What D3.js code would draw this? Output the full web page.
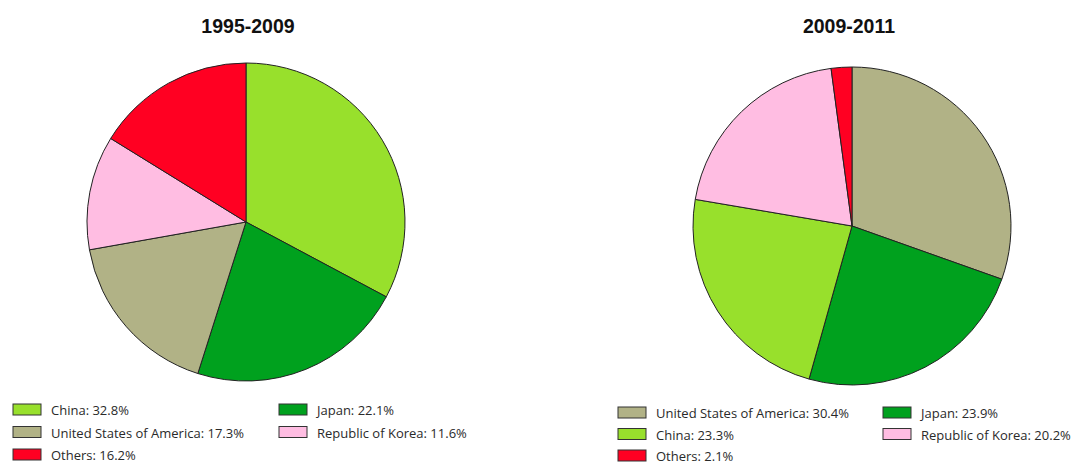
<!DOCTYPE html>
<html>
<head>
<meta charset="utf-8">
<script src="https://cdn.jsdelivr.net/npm/d3@7"></script>
<style>
  body { margin: 0; background: #fff; }
  .title { font-family: "Liberation Sans", Arial, sans-serif; font-weight: bold; font-size: 19.5px; fill: #111; }
  .legendLabel { font-family: "Open Sans", sans-serif; font-size: 13px; fill: #2a2a2a; }
</style>
</head>
<body>
<svg id="chart" width="1075" height="464"></svg>
<script>
// data, one list per panel
const periods = ["1995-2009", "2009-2011"];
const leftCountries = ["China", "Japan", "United States of America", "Republic of Korea", "Others"];
const leftShares = [32.8, 22.1, 17.3, 11.6, 16.2];
const rightCountries = ["United States of America", "Japan", "China", "Republic of Korea", "Others"];
const rightShares = [30.4, 23.9, 23.3, 20.2, 2.1];
// legend reading order differs from slice order
const leftLegendOrder = ["China", "Japan", "United States of America", "Republic of Korea", "Others"];
const rightLegendOrder = ["United States of America", "Japan", "China", "Republic of Korea", "Others"];

const countryColor = d3.scaleOrdinal()
    .domain(["China", "Japan", "United States of America", "Republic of Korea", "Others"])
    .range(["#98e02c", "#00a11e", "#b1b286", "#ffbde2", "#ff0022"]);

const svg = d3.select("#chart");
const radius = 159;

const drawPanel = (cx, cy, titleX, title, countries, shares, legendOrder, legendX, legendY, colGap, rowGap) => {
    const g = svg.append("g");

    g.append("text")
        .attr("class", "title")
        .attr("x", titleX)
        .attr("y", 33)
        .attr("text-anchor", "middle")
        .text(title);

    const rows = countries.map((c, i) => ({ country: c, share: shares[i] }));
    const pie = d3.pie().sort(null).value(d => d.share);
    const arc = d3.arc().innerRadius(0).outerRadius(radius);

    g.append("g")
        .attr("transform", `translate(${cx},${cy})`)
        .selectAll("path")
        .data(pie(rows))
        .join("path")
        .attr("d", arc)
        .attr("fill", d => countryColor(d.data.country))
        .attr("stroke", "#222")
        .attr("stroke-width", 1);

    const legend = g.append("g");
    legendOrder.forEach((c, i) => {
        const share = rows.find(r => r.country === c).share;
        const col = i % 2, row = Math.floor(i / 2);
        const item = legend.append("g")
            .attr("transform", `translate(${legendX + col * colGap},${legendY + row * rowGap})`);
        item.append("rect")
            .attr("x", 0).attr("y", -6)
            .attr("width", 28).attr("height", 11)
            .attr("fill", countryColor(c))
            .attr("stroke", "#333")
            .attr("stroke-width", 1);
        item.append("text")
            .attr("class", "legendLabel")
            .attr("x", 38)
            .attr("y", 5)
            .text(`${c}: ${share.toFixed(1)}%`);
    });
};

drawPanel(246, 222, 248, periods[0], leftCountries, leftShares, leftLegendOrder, 13, 410, 266, 22.5);
drawPanel(852, 226, 849, periods[1], rightCountries, rightShares, rightLegendOrder, 618, 413, 265, 21.5);
</script>
</body>
</html>
